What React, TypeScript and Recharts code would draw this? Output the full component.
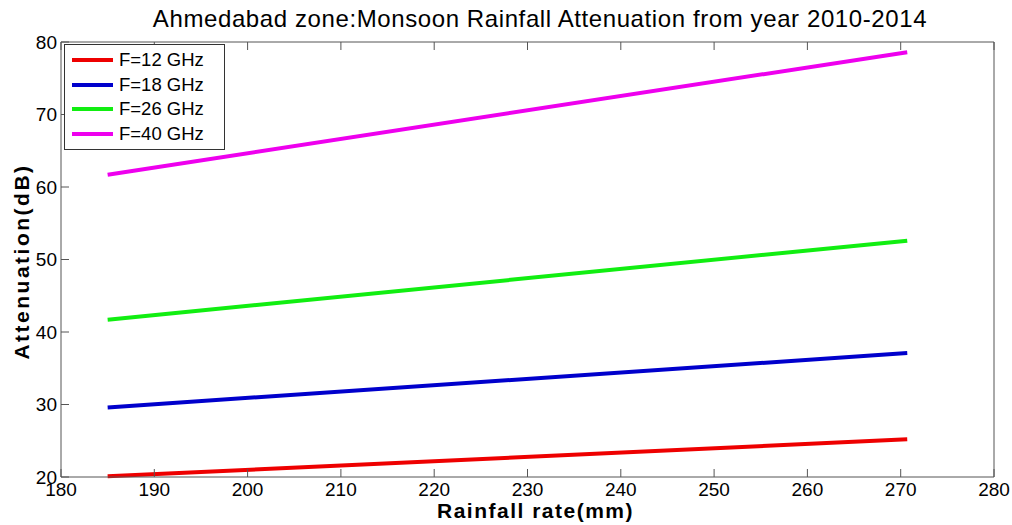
import { LineChart, Line, XAxis, YAxis, Legend } from "recharts"

// values
const rainfall = [185, 270.7]
const att12 = [20.1, 25.2]
const att18 = [29.6, 37.1]
const att26 = [41.7, 52.6]
const att40 = [61.7, 78.6]

const xTicks = [180, 190, 200, 210, 220, 230, 240, 250, 260, 270, 280]
const yTicks = [20, 30, 40, 50, 60, 70, 80]

const series = [
  { key: "f12", name: "F=12 GHz", color: "#ee0000" },
  { key: "f18", name: "F=18 GHz", color: "#0000cc" },
  { key: "f26", name: "F=26 GHz", color: "#11ee11" },
  { key: "f40", name: "F=40 GHz", color: "#ee00ee" },
]

const data = rainfall.map((r, i) => ({
  rain: r,
  f12: att12[i],
  f18: att18[i],
  f26: att26[i],
  f40: att40[i],
}))

const font = "'Liberation Sans', Arial, sans-serif"
const axisColor = "#555"
const tickStyle = { fontSize: 19, fill: "#000", fontFamily: font }

const LegendBox = () => (
  <div
    style={{
      border: "1px solid #333",
      background: "#fff",
      padding: "3px 20px 3px 7px",
      fontFamily: font,
      fontSize: 18.5,
      lineHeight: "24.5px",
    }}
  >
    {series.map((s) => (
      <div key={s.key} style={{ display: "flex", alignItems: "center" }}>
        <span style={{ display: "inline-block", width: 41, height: 4, background: s.color, marginRight: 6 }} />
        <span>{s.name}</span>
      </div>
    ))}
  </div>
)

export default function App() {
  return (
    <div style={{ position: "absolute", left: 0, top: 0, width: 1012, height: 525, background: "#fff" }}>
      <div
        style={{
          position: "absolute",
          left: 0,
          width: 1080,
          top: 5,
          textAlign: "center",
          fontFamily: font,
          fontSize: 24,
          letterSpacing: 0.6,
          color: "#000",
          whiteSpace: "nowrap",
        }}
      >
        Ahmedabad zone:Monsoon Rainfall Attenuation from year 2010-2014
      </div>
      <LineChart width={1012} height={525} data={data} margin={{ top: 0, right: 0, bottom: 0, left: 0 }}>
        <XAxis
          dataKey="rain"
          type="number"
          domain={[180, 280]}
          ticks={xTicks}
          height={48}
          tickSize={-8}
          tickMargin={14}
          stroke={axisColor}
          tick={tickStyle}
          label={{
            value: "Rainfall rate(mm)",
            position: "center",
            dx: 8,
            dy: 10,
            style: { fontSize: 21, letterSpacing: 1.5, fontWeight: "bold", fill: "#000", fontFamily: font },
          }}
        />
        <XAxis
          xAxisId="top"
          orientation="top"
          dataKey="rain"
          type="number"
          domain={[180, 280]}
          ticks={xTicks}
          height={42}
          tickSize={-8}
          tickFormatter={() => ""}
          stroke={axisColor}
        />
        <YAxis
          type="number"
          domain={[20, 80]}
          ticks={yTicks}
          width={61}
          tickSize={-8}
          tickMargin={12}
          stroke={axisColor}
          tick={tickStyle}
          label={{
            value: "Attenuation(dB)",
            angle: -90,
            position: "center",
            dx: -9,
            dy: 2,
            style: { fontSize: 21, letterSpacing: 2.5, fontWeight: "bold", fill: "#000", fontFamily: font },
          }}
        />
        <YAxis
          yAxisId="right"
          orientation="right"
          type="number"
          domain={[20, 80]}
          ticks={yTicks}
          width={18}
          tickSize={-8}
          tickFormatter={() => ""}
          stroke={axisColor}
        />
        <Legend
          layout="horizontal"
          verticalAlign="middle"
          align="center"
          content={() => <LegendBox />}
          wrapperStyle={{ left: 64, top: 44, width: "auto", height: "auto" }}
        />
        {series.map((s) => (
          <Line
            key={s.key}
            dataKey={s.key}
            name={s.name}
            stroke={s.color}
            strokeWidth={4}
            dot={false}
            type="linear"
            isAnimationActive={false}
          />
        ))}
      </LineChart>
    </div>
  )
}
